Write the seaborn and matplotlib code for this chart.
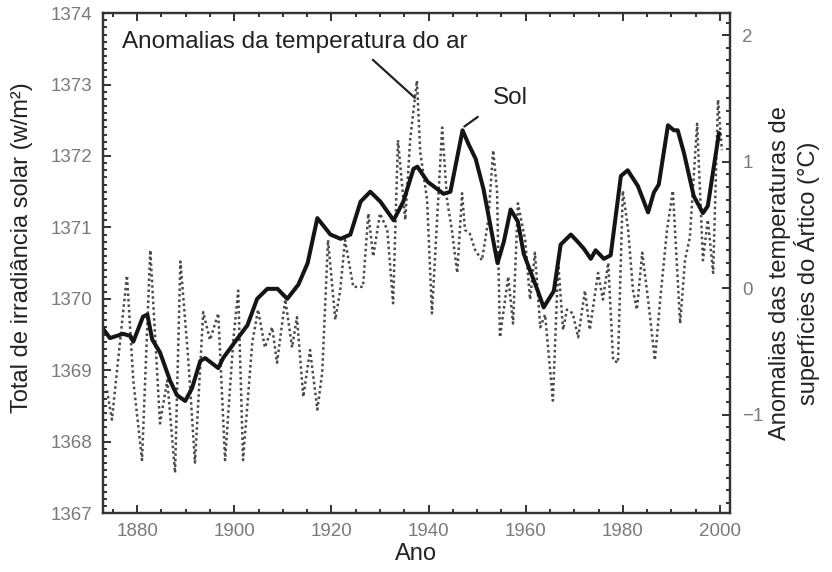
import matplotlib
matplotlib.use("Agg")
import matplotlib.pyplot as plt
from matplotlib.ticker import MultipleLocator, FixedLocator
import seaborn as sns
import pandas as pd

# Total solar irradiance (W/m²), smoothed curve
sol_years = [1873.0, 1874.4, 1877.1, 1878.6, 1879.2, 1881.2, 1882.1, 1883.1, 1884.7, 1886.8,
             1888.2, 1889.9, 1891.3, 1893.0, 1894.0, 1896.7, 1897.7, 1900.6, 1902.7, 1904.7,
             1906.8, 1908.9, 1910.9, 1913.2, 1915.1, 1917.1, 1919.8, 1921.9, 1923.9, 1926.0,
             1928.0, 1930.1, 1932.8, 1934.8, 1936.9, 1937.7, 1939.8, 1943.1, 1944.5, 1947.0,
             1948.2, 1949.7, 1951.3, 1954.2, 1955.5, 1956.9, 1958.4, 1959.6, 1962.5, 1963.7,
             1965.8, 1967.2, 1969.3, 1970.7, 1972.0, 1973.4, 1974.4, 1976.1, 1977.5, 1979.6,
             1981.0, 1983.1, 1985.2, 1986.4, 1987.4, 1989.3, 1990.5, 1991.3, 1992.6, 1994.6,
             1996.5, 1997.5, 1999.8]
sol_values = [1369.58, 1369.45, 1369.51, 1369.48, 1369.40, 1369.75, 1369.78, 1369.43, 1369.25, 1368.85,
              1368.65, 1368.57, 1368.75, 1369.13, 1369.17, 1369.03, 1369.17, 1369.44, 1369.63, 1370.00,
              1370.14, 1370.14, 1370.00, 1370.20, 1370.50, 1371.13, 1370.90, 1370.84, 1370.90, 1371.36,
              1371.50, 1371.36, 1371.10, 1371.36, 1371.82, 1371.85, 1371.64, 1371.47, 1371.50, 1372.36,
              1372.17, 1371.96, 1371.54, 1370.50, 1370.80, 1371.25, 1371.08, 1370.63, 1370.11, 1369.88,
              1370.11, 1370.76, 1370.90, 1370.80, 1370.70, 1370.56, 1370.68, 1370.56, 1370.61, 1371.72,
              1371.80, 1371.58, 1371.21, 1371.49, 1371.60, 1372.43, 1372.36, 1372.36, 1372.04, 1371.44,
              1371.20, 1371.30, 1372.32]

# Arctic surface air temperature anomalies (°C)
temp_years = [1873.8, 1874.8, 1877.9, 1879.2, 1881.0, 1882.7, 1884.7, 1886.2, 1887.8, 1888.9,
              1890.5, 1891.9, 1893.6, 1895.0, 1896.7, 1898.1, 1899.8, 1900.8, 1901.8, 1903.7,
              1904.9, 1906.3, 1907.8, 1908.8, 1910.5, 1911.9, 1912.9, 1914.2, 1915.6, 1917.1,
              1918.1, 1919.3, 1920.8, 1921.8, 1922.8, 1924.5, 1926.5, 1927.6, 1928.6, 1930.0,
              1931.5, 1932.7, 1933.7, 1935.2, 1936.2, 1937.6, 1938.3, 1939.7, 1940.7, 1942.8,
              1943.8, 1944.8, 1945.9, 1946.9, 1947.5, 1948.5, 1949.6, 1951.0, 1952.3, 1953.3,
              1954.1, 1954.7, 1956.4, 1957.4, 1958.4, 1959.9, 1960.9, 1961.9, 1963.0, 1964.0,
              1965.6, 1966.7, 1967.7, 1968.5, 1969.7, 1970.8, 1972.2, 1973.2, 1974.9, 1975.9,
              1977.0, 1978.0, 1979.0, 1980.0, 1981.1, 1982.1, 1982.9, 1984.0, 1985.2, 1986.6,
              1987.7, 1989.1, 1990.3, 1991.8, 1992.8, 1993.8, 1995.3, 1996.5, 1997.5, 1998.6,
              1999.6, 2000.4]
temp_values = [-0.81, -1.04, 0.10, -0.73, -1.36, 0.30, -1.07, -0.73, -1.46, 0.21,
               -0.55, -1.38, -0.19, -0.41, -0.20, -1.36, -0.41, -0.02, -1.36, -0.43,
               -0.17, -0.47, -0.31, -0.59, -0.09, -0.47, -0.23, -0.86, -0.49, -0.96,
               -0.67, 0.38, -0.25, -0.02, 0.38, 0.01, 0.01, 0.59, 0.25, 0.59,
               0.46, -0.12, 1.17, 0.54, 1.17, 1.64, 1.07, 0.70, -0.20, 1.27,
               0.70, 0.46, 0.12, 0.75, 0.46, 0.43, 0.30, 0.22, 0.54, 1.09,
               0.77, -0.39, 0.09, -0.28, 0.67, 0.38, -0.09, 0.28, -0.31, -0.21,
               -0.89, 0.20, -0.33, -0.17, -0.20, -0.39, -0.02, -0.33, 0.12, -0.09,
               0.20, -0.57, -0.59, 0.77, 0.46, -0.02, -0.17, 0.28, -0.09, -0.57,
               -0.09, 0.46, 0.77, -0.28, 0.22, 0.40, 1.30, 0.22, 0.54, 0.12,
               1.49, 1.09]

x_ticks = [1880, 1900, 1920, 1940, 1960, 1980, 2000]
left_ticks = [1367, 1368, 1369, 1370, 1371, 1372, 1373, 1374]
right_ticks = [-1, 0, 1, 2]

sns.set_theme(style="ticks")
plt.rcParams["font.family"] = ["Liberation Sans", "DejaVu Sans"]
plt.rcParams["axes.unicode_minus"] = True

sol_df = pd.DataFrame({"ano": sol_years, "sol": sol_values})
temp_df = pd.DataFrame({"ano": temp_years, "temp": temp_values})

fig = plt.figure(figsize=(8.32, 5.72), dpi=100)
ax = fig.add_axes([0.124, 0.103, 0.753, 0.874])
ax2 = ax.twinx()

# dotted temperature anomalies on the right axis
sns.lineplot(data=temp_df, x="ano", y="temp", ax=ax2, color="#2a2a2a",
             linestyle=(0, (1.0, 1.2)), linewidth=1.8, alpha=0.85,
             estimator=None, sort=False)

# thick solar irradiance curve on the left axis, drawn above
sns.lineplot(data=sol_df, x="ano", y="sol", ax=ax, color="#151515",
             linewidth=2.9, estimator=None, sort=False,
             solid_joinstyle="round", solid_capstyle="round")
ax.set_zorder(ax2.get_zorder() + 1)
ax.patch.set_visible(False)

ax.set_xlim(1873, 2002)
ax.set_ylim(1367, 1374)
ax2.set_ylim(-1.779, 2.174)

tick_color = "#7a7a7a"
spine_color = "#333333"
for a in (ax, ax2):
    for s in a.spines.values():
        s.set_color(spine_color)
        s.set_linewidth(1.6)

ax.xaxis.set_major_locator(FixedLocator(x_ticks))
ax.xaxis.set_minor_locator(MultipleLocator(5))
ax.yaxis.set_major_locator(FixedLocator(left_ticks))
ax.yaxis.set_minor_locator(MultipleLocator(0.1))
ax2.yaxis.set_major_locator(FixedLocator(right_ticks))
ax2.yaxis.set_minor_locator(MultipleLocator(0.1))

ax.tick_params(axis="x", which="both", direction="in", top=True, bottom=True,
               colors=spine_color, labelcolor=tick_color, labelsize=13.5, pad=7)
ax.tick_params(axis="y", which="both", direction="in", left=True, right=False,
               colors=spine_color, labelcolor=tick_color, labelsize=13.5, pad=8)
ax2.tick_params(axis="y", which="both", direction="in", right=True,
                colors=spine_color, labelcolor=tick_color, labelsize=13.5, pad=9)
for a in (ax, ax2):
    a.tick_params(which="major", length=6, width=1.4)
    a.tick_params(which="minor", length=3, width=1.4)

ax.set_xlabel("Ano", fontsize=17, color="#222222", labelpad=2)
ax.set_ylabel("Total de irradiância solar (w/m²)", fontsize=17, color="#222222")
ax.yaxis.set_label_coords(-0.112, 0.53)
ax2.set_ylabel("Anomalias das temperaturas de\nsuperfícies do Ártico (°C)",
               fontsize=17, color="#222222", linespacing=1.15)
ax2.yaxis.set_label_coords(1.062, 0.48)

# series annotations
ax2.text(1876.9, 1.945, "Anomalias da temperatura do ar", fontsize=17.5,
         color="#222222", va="center", ha="left")
ax2.annotate("", xy=(1937.6, 1.49), xytext=(1928.1, 1.82),
             arrowprops=dict(arrowstyle="-", lw=1.6, color="#222222"))
ax.text(1953.3, 1372.81, "Sol", fontsize=17.5, color="#222222",
        va="center", ha="left")
ax.annotate("", xy=(1946.9, 1372.39), xytext=(1950.6, 1372.57),
            arrowprops=dict(arrowstyle="-", lw=1.6, color="#222222"))

fig.savefig("out.png", dpi=100, facecolor="white")
